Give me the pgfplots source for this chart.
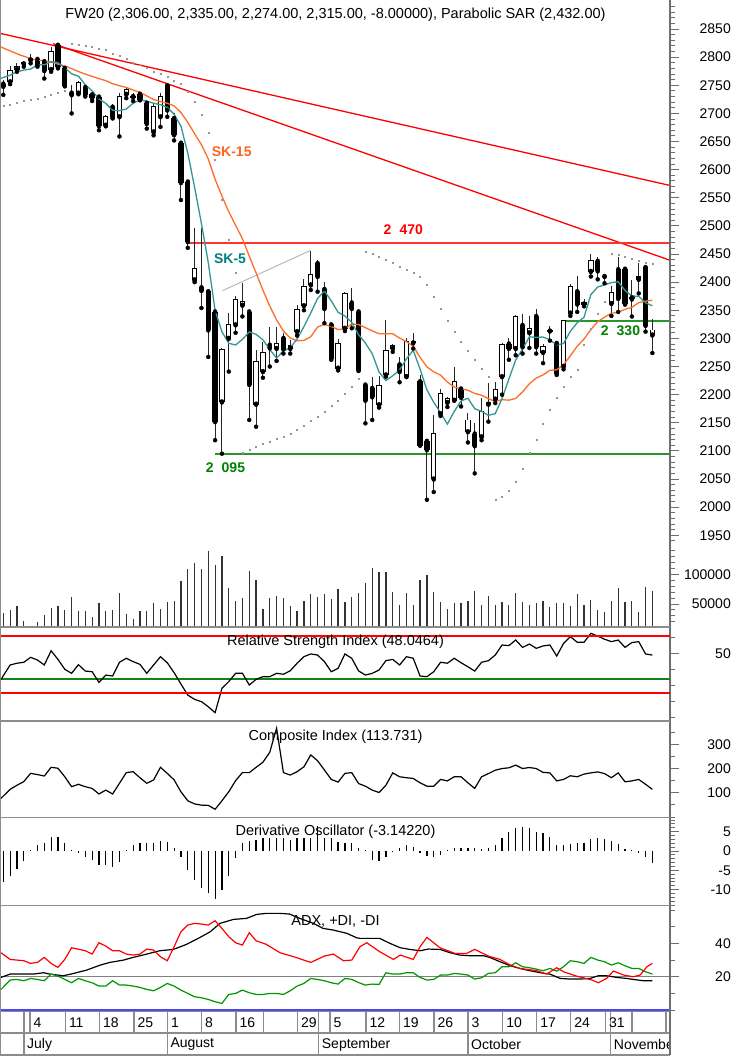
\documentclass[border=0pt]{standalone}
\usepackage{pgfplots}
\usepackage{pgfplotstable}
\pgfplotsset{compat=1.18}
\usepackage{fontspec}
\setmainfont{Liberation Sans}

\definecolor{axgray}{RGB}{110,110,110}
\definecolor{framegray}{RGB}{140,140,140}
\definecolor{tealline}{RGB}{50,150,150}
\definecolor{tealtext}{RGB}{0,128,128}
\definecolor{orangeline}{RGB}{255,110,40}
\definecolor{orangetext}{RGB}{255,100,30}
\definecolor{pured}{RGB}{255,0,0}
\definecolor{hred}{RGB}{255,50,50}
\definecolor{hgreen}{RGB}{40,150,40}
\definecolor{gtext}{RGB}{0,128,0}
\definecolor{sargray}{RGB}{150,150,150}
\definecolor{digreen}{RGB}{0,150,0}
\definecolor{rsigreen}{RGB}{20,130,20}
\definecolor{adxblue}{RGB}{70,70,255}

\pgfplotsset{
  panel/.style={
    scale only axis, width=669pt, xmin=-0.337, xmax=97.58,
    enlargelimits=false, anchor=north west,
    hide x axis, axis y line*=right,
    y axis line style={-, draw=axgray, line width=1.2pt},
    tick align=outside, major tick length=9pt, minor tick length=5pt,
    every tick/.append style={draw=axgray, line width=1pt},
    yticklabel style={font=\fontsize{14}{14}\selectfont, anchor=east, xshift=52pt, inner sep=0pt},
    scaled y ticks=false,
    /pgf/number format/1000 sep={},
    /pgf/number format/fixed,
    /pgf/number format/assume math mode=true,
  },
  cbar/.style={only marks, mark=none, forget plot,
    error bars/y dir=plus, error bars/y explicit, error bars/error mark=none},
}

\begin{document}

\pgfplotstableread{
i o h l c
0 2752 2759 2733 2748
1 2756 2784 2752 2776
2 2778 2790 2774 2783
3 2788 2793 2783 2790
4 2795 2805 2789 2797
5 2796 2800 2783 2786
6 2792 2795 2762 2776
7 2778 2818 2774 2810
8 2821 2824 2780 2783
9 2780 2783 2748 2750
10 2736 2750 2700 2733
11 2736 2757 2734 2755
12 2746 2750 2730 2734
13 2733 2736 2722 2728
14 2729 2733 2670 2678
15 2679 2697 2677 2694
16 2711 2716 2691 2694
17 2694 2736 2659 2730
18 2734 2745 2727 2743
19 2730 2737 2722 2729
20 2734 2740 2724 2724
21 2718 2724 2673 2682
22 2667 2718 2661 2712
23 2694 2736 2676 2730
24 2749 2751 2694 2706
25 2691 2700 2652 2662
26 2647 2650 2546 2577
27 2578 2582 2461 2472
28 2404 2496 2400 2425
29 2390 2496 2354 2385
30 2383 2386 2267 2315
31 2347 2350 2119 2152
32 2187 2283 2095 2281
33 2300 2345 2241 2324
34 2324 2375 2310 2369
35 2359 2398 2339 2366
36 2347 2350 2155 2218
37 2183 2279 2143 2259
38 2241 2293 2230 2275
39 2288 2321 2250 2283
40 2282 2321 2260 2291
41 2300 2310 2273 2281
42 2282 2298 2273 2287
43 2312 2360 2305 2352
44 2358 2405 2350 2393
45 2395 2456 2386 2413
46 2433 2440 2383 2410
47 2387 2401 2327 2353
48 2324 2327 2262 2265
49 2247 2299 2243 2291
50 2318 2383 2313 2380
51 2363 2389 2318 2353
52 2347 2352 2242 2244
53 2217 2220 2149 2190
54 2211 2232 2155 2196
55 2182 2233 2177 2217
56 2235 2333 2232 2278
57 2282 2290 2276 2287
58 2253 2267 2222 2241
59 2232 2300 2232 2295
60 2292 2310 2282 2294
61 2223 2235 2110 2110
62 2117 2117 2013 2102
63 2050 2164 2027 2131
64 2166 2210 2162 2202
65 2186 2196 2178 2193
66 2190 2250 2190 2223
67 2210 2213 2179 2195
68 2134 2168 2115 2155
69 2130 2149 2060 2109
70 2125 2194 2119 2170
71 2183 2220 2152 2187
72 2192 2222 2185 2210
73 2232 2292 2200 2290
74 2290 2300 2262 2282
75 2282 2342 2270 2339
76 2323 2344 2273 2285
77 2310 2340 2283 2318
78 2339 2353 2273 2285
79 2275 2290 2256 2285
80 2313 2322 2296 2315
81 2291 2293 2235 2238
82 2250 2332 2245 2332
83 2345 2397 2340 2393
84 2383 2411 2347 2361
85 2361 2370 2357 2364
86 2419 2450 2410 2439
87 2437 2445 2405 2420
88 2410 2412 2398 2411
89 2362 2393 2340 2382
90 2422 2444 2347 2371
91 2423 2425 2360 2362
92 2372 2404 2339 2370
93 2405 2434 2380 2410
94 2426 2430 2312 2323
95 2306 2335 2274 2315
}\candles

\pgfplotstableread{
i p
-0.34 2762
0 2764
1 2768
2 2774
3 2777
4 2778.8
5 2786.4
6 2786.4
7 2791.8
8 2790.4
9 2781
10 2770.4
11 2766.2
12 2751
13 2740
14 2725.6
15 2717.8
16 2705.6
17 2704.8
18 2707.8
19 2718
20 2724
21 2721.6
22 2718
23 2715.4
24 2710.8
25 2698.4
26 2677.4
27 2629.4
28 2568.4
29 2504.2
30 2434.8
31 2349.8
32 2311.6
33 2291.4
34 2288.2
35 2298.4
36 2311.6
37 2307.2
38 2297.4
39 2280.2
40 2265.2
41 2277.8
42 2283.4
43 2298.8
44 2320.8
45 2345.2
46 2371
47 2384.2
48 2366.8
49 2346.4
50 2339.8
51 2328.4
52 2306.6
53 2291.6
54 2272.6
55 2240
56 2225
57 2233.6
58 2243.8
59 2263.6
60 2279
61 2245.4
62 2208.4
63 2186.4
64 2167.8
65 2147.6
66 2170.2
67 2188.8
68 2193.6
69 2175
70 2170.4
71 2163.2
72 2166.2
73 2193.2
74 2227.8
75 2261.6
76 2281.2
77 2302.8
78 2301.8
79 2302.4
80 2297.6
81 2288.2
82 2291
83 2312.6
84 2327.8
85 2337.6
86 2377.8
87 2391.4
88 2395
89 2399.2
90 2400.6
91 2385.2
92 2375.2
93 2375
94 2363.2
95 2358
}\skfive

\pgfplotstableread{
i p
-0.34 2818
2.4 2804
4.4 2796
6.8 2792
9.3 2783
11.7 2771
14 2761.8
15 2758.2
16 2752.7
17 2749.2
18 2746.1
19 2741.5
20 2737.4
21 2731.1
22 2724.6
23 2721.1
24 2718.1
25 2713.4
26 2701.5
27 2684.1
28 2663.9
29 2644.3
30 2619.1
31 2582.9
32 2553
33 2525.1
34 2501.1
35 2477.2
36 2446.3
37 2416.1
38 2385.7
39 2357.5
40 2332.8
41 2313.1
42 2300.7
43 2295.9
44 2296.4
45 2302.9
46 2320.1
47 2324.9
48 2321
49 2315.8
50 2316.7
51 2325.7
52 2324.7
53 2319.1
54 2313.3
55 2308.3
56 2308.1
57 2308.1
58 2300.7
59 2294.2
60 2286.3
61 2266.3
62 2249.5
63 2240.6
64 2234.7
65 2222.2
66 2213.5
67 2210.3
68 2207.9
69 2202.1
70 2199
71 2192.9
72 2187.8
73 2191.1
74 2190.2
75 2193.2
76 2204.9
77 2219.3
78 2229.5
79 2235.1
80 2243.2
81 2244.2
82 2253.3
83 2269.2
84 2286
85 2298.9
86 2315.7
87 2329.7
88 2337.8
89 2344.5
90 2346.6
91 2351.7
92 2355.2
93 2363.5
94 2366.1
95 2368
}\skfifteen

\pgfplotstableread{
i p
0 2714
1 2716
2 2719
3 2722
4 2724
5 2727
6 2730
7 2733
8 2736
9 2740
10 2824
11 2823
12 2820
13 2818
14 2815
15 2813
16 2807
17 2802
18 2797
19 2791
20 2786
21 2781
22 2775
23 2770
24 2765
25 2759
26 2753
27 2738
28 2720
29 2697
30 2665
31 2617
32 2546
33 2476
34 2416
35 2097
36 2103
37 2108
38 2112
39 2116
40 2121
41 2126
42 2131
43 2138
44 2145
45 2153
46 2161
47 2170
48 2180
49 2190
50 2202
51 2215
52 2229
53 2454
54 2450
55 2445
56 2440
57 2434
58 2428
59 2422
60 2416
61 2409
62 2396
63 2374
64 2352
65 2331
66 2312
67 2294
68 2279
69 2262
70 2247
71 2232
72 2013
73 2019
74 2029
75 2045
76 2069
77 2097
78 2120
79 2149
80 2173
81 2195
82 2215
83 2232
84 2245
85 2288
86 2318
87 2344
88 2366
89 2451
90 2449
91 2446
92 2441
93 2438
94 2435
95 2432
}\sar

\pgfplotstableread{
i v
0 35350
1 39900
2 46630
3 21890
4 12960
5 19700
6 30970
7 43770
8 46630
9 39900
10 62290
11 38220
12 38220
13 27610
14 51180
15 38220
16 39900
17 69020
18 33160
19 24240
20 38220
21 38220
22 51180
23 42090
24 53370
25 55560
26 88720
27 108420
28 119530
29 108420
30 139730
31 115660
32 130810
33 77440
34 55560
35 59600
36 106060
37 90400
38 42090
39 59600
40 63970
41 59600
42 46630
43 38220
44 55560
45 66840
46 62290
47 66840
48 57910
49 75250
50 53370
51 62290
52 69020
53 84850
54 110100
55 103370
56 103370
57 70710
58 48320
59 68010
60 48320
61 90400
62 98820
63 70710
64 52860
65 41580
66 51180
67 51180
68 55560
69 72390
70 48320
71 63970
72 48320
73 52860
74 48320
75 68010
76 52860
77 48320
78 51180
79 55050
80 45450
81 51180
82 51180
83 46630
84 66330
85 48320
86 56730
87 39900
88 37040
89 55050
90 76430
91 52860
92 55050
93 37040
94 79120
95 72390
}\volume

\pgfplotstableread{
i v
-0.34 33.5
0 36
1 42.7
2 43.8
3 44.4
4 47.5
5 45.8
6 42.7
7 51.6
8 46.2
9 40
10 37.5
11 42.9
12 38.9
13 38.5
14 31.8
15 36.4
16 35.8
17 44.4
18 46.9
19 44.8
20 43.1
21 37.5
22 42.7
23 47.9
24 44.1
25 37.9
26 30.8
27 23.9
28 21.2
29 19.8
30 16.6
31 12.9
32 28.1
33 32.3
34 37.5
35 37.5
36 30.2
37 33.7
38 35.4
39 35.4
40 37.5
41 36.9
42 39.1
43 43.8
44 47.9
45 49.6
46 48.9
47 44.8
48 38.5
49 40.6
50 49.6
51 46.9
52 39
53 36.4
54 37.5
55 39.6
56 45.4
57 46.2
58 42.7
59 47.9
60 46.9
61 35.8
62 35.4
63 38.5
64 44.4
65 43.8
66 46.9
67 44.1
68 41.6
69 38.9
70 44.4
71 45.4
72 48.9
73 55.2
74 54.8
75 58.3
76 53.7
77 55.8
78 53.1
79 54.6
80 55.2
81 48.3
82 56.2
83 60.4
84 56.9
85 56.9
86 62.5
87 60.8
88 58.8
89 57.3
90 58.3
91 53.7
92 56.7
93 57.3
94 49.6
95 48.9
}\rsi

\pgfplotstableread{
i v
-0.34 77
1 114
2 131
3 146
4 180
5 175
6 169
7 205
8 201
9 166
10 125
11 135
12 125
13 118
14 95
15 111
16 95
17 139
18 183
19 187
20 162
21 139
22 153
23 205
24 180
25 153
26 104
27 67
28 54
29 49
30 48
31 32
32 67
33 104
34 150
35 183
36 183
37 205
38 226
39 267
40 366
41 183
42 173
43 187
44 207
45 256
46 232
47 194
48 155
49 144
50 180
51 183
52 138
53 127
54 111
55 101
56 131
57 182
58 166
59 162
60 159
61 141
62 127
63 127
64 155
65 149
66 166
67 166
68 141
69 118
70 166
71 179
72 193
73 200
74 203
75 214
76 200
77 204
78 200
79 184
80 182
81 149
82 155
83 170
84 166
85 177
86 182
87 186
88 179
89 162
90 182
91 145
92 149
93 155
94 135
95 114
}\composite

\pgfplotstableread{
i v
0 -7.9
1 -6.6
2 -4.7
3 -2.6
4 0.2
5 1.55
6 2.0
7 3.5
8 3.5
9 2.2
10 0.3
11 -0.4
12 -1.5
13 -2.3
14 -3.6
15 -3.6
16 -4.2
17 -2.8
18 0.3
19 1.55
20 2.2
21 2.2
22 2.2
23 2.7
24 2.4
25 0.7
26 -1.5
27 -4.9
28 -7.5
29 -9.7
30 -11.0
31 -12.5
32 -10.1
33 -6.5
34 -1.9
35 2.0
36 2.7
37 2.85
38 3.3
39 3.3
40 3.3
41 3.3
42 2.85
43 3.3
44 3.3
45 3.3
46 6.5
47 3.3
48 3.3
49 2.4
50 2.2
51 2.0
52 0.7
53 0.3
54 -2.2
55 -2.5
56 -1.5
57 -0.3
58 0.7
59 1.55
60 1.1
61 -0.4
62 -1.3
63 -1.5
64 -1.0
65 0.3
66 0.7
67 0.7
68 0.7
69 0.7
70 0.5
71 0.7
72 1.55
73 3.3
74 5.0
75 5.9
76 6.3
77 5.9
78 5.0
79 4.6
80 3.7
81 1.55
82 1.55
83 1.7
84 2.0
85 2.2
86 3.0
87 3.3
88 3.1
89 2.7
90 1.7
91 0.5
92 0.3
93 -0.4
94 -1.5
95 -3.14
}\dosc

\pgfplotstableread{
i v
-0.34 19.6
1 21.6
2.4 21.6
4.4 21.6
5.9 22.4
6.8 21.6
8.8 20.6
10.3 22
12.2 24
14.2 27
15.6 28.6
17.6 30
19.0 31.6
21 33.6
22.9 35.6
24.9 36.4
26.8 39.4
28.8 43.6
30.3 47
31.7 52
33.7 54.4
35.6 55
37.1 57.4
38.5 58
40.5 58
41.9 57.6
43.4 55
45.4 52
46.8 49
48.3 48
50.3 46
51.7 43.4
52.2 43
55.1 43
56.6 40
58.1 37.4
59.5 36.4
61 35.6
62.2 36.6
63.9 36.4
65.4 34.4
66.8 33
68.3 32.6
70.3 32.6
71.2 31.6
72.7 29
74.2 26.6
75.6 25
77.1 23.6
78.6 22.4
80 21.6
81.5 19
83 18.6
84.4 18.6
85.9 19
87.1 20.6
88.3 20.6
89.8 19.6
91.2 19
92.2 18.4
93.7 17.6
95 17.6
}\adx

\pgfplotstableread{
i v
-0.34 12.4
1 18
2 18.4
3 17.6
4 19
5 18.4
6 17.6
7 21.6
8 20.4
9 18.4
10 16.4
11 19
12 17.6
13 16.4
14 14.4
15 14.4
16 17.6
17 15
18 15
19 14.4
20 13.6
21 12.4
22 11.6
23 13.6
24 16
25 14.4
26 12
27 10
28 8
29 7.4
30 6.4
31 5
32 4
33 9.4
34 10
35 12
36 10.4
37 9.4
38 9.4
39 10
40 10
41 9.4
42 11.6
43 14.4
44 16
45 19
46 18.4
47 17.6
48 16.4
49 15.6
50 19
51 18.4
52 16.5
53 15
54 15.6
55 15.4
56 22.4
57 21.6
58 21.6
59 22.4
60 22.4
61 19.6
62 18
63 18.4
64 21
65 21
66 22
67 21.6
68 21
69 18.6
70 19.4
71 22
72 22.4
73 26
74 26
75 28.4
76 26
77 25.4
78 24.6
79 23.6
80 25
81 23.4
82 26
83 29.6
84 29
85 28
86 31.6
87 30
88 29
89 27
90 28.4
91 26.6
92 25
93 25
94 23
95 21.6
}\pdi

\pgfplotstableread{
i v
-0.34 34.4
1 30.4
3 29.6
4 28
5 28.6
6 31.6
7 28
8 25.6
9 30.4
10 37.4
11 36.5
12 35.6
13 33.6
14 40.4
15 38.4
16 35.6
17 35.6
18 33.6
19 33
20 33.6
21 36.6
22 36
23 32
24 29.6
25 38
26 47
27 51
28 52
29 51.6
30 51
31 53.6
32 49
33 44
34 40.4
35 39
36 46.4
37 41.6
38.5 39.4
40.5 34.4
42.5 32
45 28.6
47 32.4
48.3 33.6
49.8 29.6
51 30
52.2 38
53.2 40.4
55.1 35
57.1 30.4
58.1 33
60 30.4
61 38
62 43.6
63.9 37.4
66.1 34
67.8 34
69 36.4
71 32.4
72.7 30.4
74.2 27
75.6 25
78.1 23.6
79.5 21.6
81 25.4
82 23
83.9 20.4
86.2 18
87.1 16.4
88.3 19
89.3 23.4
90.8 21
92.2 20
93.2 21
94.2 26
95 28
}\mdi

\pgfplotstableread{
i lo mid hi
-0.337 25 34 61
97.58 25 34 61
}\rsilevels

\begin{tikzpicture}
\fill[white] (0pt,0pt) rectangle (740pt,-1057pt);
\path[use as bounding box] (0pt,0pt) rectangle (740pt,-1057pt);

% ---------- price panel ----------
\begin{axis}[panel, at={(1pt,0pt)}, height=627pt, ymin=1786.9, ymax=2901.6,
  ytick={1950,2000,...,2850}, minor ytick={1940,1950,...,2890}]
  % trend lines
  \addplot[draw=pured, line width=1.3pt] coordinates {(-0.5,2842.4) (97.6,2571.8)};
  \addplot[draw=pured, line width=1.3pt] coordinates {(7.3,2824) (97.6,2438.8)};
  \addplot[draw=hred, line width=1.6pt] coordinates {(27,2470) (97.6,2470)};
  \addplot[draw=hgreen, line width=1.6pt] coordinates {(31,2095) (97.6,2095)};
  \addplot[draw=hgreen, line width=1.6pt] coordinates {(81.8,2331) (97.6,2331)};
  \addplot[draw=gray!55, line width=1pt] coordinates {(32.1,2385) (44.9,2456)};
  % parabolic SAR
  \addplot[only marks, mark=square*, mark size=0.5pt, draw=sargray, fill=sargray] table[x=i,y=p]{\sar};
  % candles
  \addplot[cbar, error bars/error bar style={line width=1pt, draw=black!85}]
    table[x=i, y=l, y error plus expr={\thisrow{h}-\thisrow{l}}]{\candles};
  \addplot[cbar, error bars/error bar style={line width=5.3pt, draw=black}]
    table[x=i, y expr={min(\thisrow{o},\thisrow{c})-0.8}, y error plus expr={abs(\thisrow{c}-\thisrow{o})+1.6}]{\candles};
  \addplot[cbar, error bars/error bar style={line width=3.3pt, draw=white}]
    table[x=i, y expr={\thisrow{o}+0.9}, y error plus expr={max(\thisrow{c}-\thisrow{o}-1.8,0)}]{\candles};
  % moving averages
  \addplot[draw=orangeline, line width=1.3pt] table[x=i,y=p]{\skfifteen};
  \addplot[draw=tealline, line width=1.3pt] table[x=i,y=p]{\skfive};
\end{axis}

% ---------- volume overlay ----------
\begin{axis}[panel, at={(1pt,0pt)}, height=627pt, ymin=11279, ymax=1066835,
  ytick={50000,100000}, minor ytick={20000,30000,...,140000}]
  \addplot[ycomb, line width=1.2pt, draw=black!80] table[x=i,y=v]{\volume};
\end{axis}

% ---------- RSI ----------
\begin{axis}[panel, at={(1pt,-627pt)}, height=94pt, ymin=7.69, ymax=66.44,
  ytick={50}, minor ytick={10,20,30,40,60}, clip=false]
  \addplot[color=rsigreen, line width=1.2pt] table[x=i,y=mid]{\rsilevels};
  \addplot[color=black, line width=1.2pt] table[x=i,y=v]{\rsi};
  \addplot[color=pured, line width=1.6pt] table[x=i,y=hi]{\rsilevels};
  \addplot[color=pured, line width=1.7pt] table[x=i,y=lo]{\rsilevels};
\end{axis}

% ---------- Composite ----------
\begin{axis}[panel, at={(1pt,-721pt)}, height=96.3pt, ymin=-1.2, ymax=395.9,
  ytick={100,200,300}, minor ytick={0,50,150,250,350}]
  \addplot[draw=black, line width=1.2pt] table[x=i,y=v]{\composite};
\end{axis}

% ---------- Derivative oscillator ----------
\begin{axis}[panel, at={(1pt,-817.3pt)}, height=88.4pt, ymin=-14.17, ymax=8.73,
  ytick={-10,-5,0,5}, minor ytick={-14,-13,...,8}]
  \addplot[ycomb, line width=1.2pt, draw=black] table[x=i,y=v]{\dosc};
\end{axis}

% ---------- ADX ----------
\begin{axis}[panel, at={(1pt,-905.7pt)}, height=105.8pt, ymin=-0.84, ymax=62.6,
  ytick={20,40}, minor ytick={0,10,30,50,60}]
  \addplot[draw=gray, line width=1pt] coordinates {(-0.3,20) (97.5,20)};
  \addplot[draw=adxblue, line width=2.5pt] coordinates {(-0.3,0) (97.5,0)};
  \addplot[draw=black, line width=1.2pt] table[x=i,y=v]{\adx};
  \addplot[draw=digreen, line width=1.2pt] table[x=i,y=v]{\pdi};
  \addplot[draw=pured, line width=1.2pt] table[x=i,y=v]{\mdi};
\end{axis}

\begin{scope}[x=1pt,y=-1pt]
  % frame
  \draw[framegray, line width=1.2pt] (0.6,0) -- (0.6,1055);
  \foreach \yy in {627,721,817.3,905.7,1011.5,1033,1055}
    \draw[framegray, line width=1.2pt] (0,\yy) -- (670,\yy);
  \draw[axgray, line width=1.2pt] (670,1011.5) -- (670,1055);
  % titles
  \begin{scope}[every node/.style={font=\fontsize{14.5}{16}\selectfont, inner sep=0pt}]
    \node at (335.5,15) {FW20 (2,306.00, 2,335.00, 2,274.00, 2,315.00, -8.00000), Parabolic SAR (2,432.00)};
    \node at (335.5,642) {Relative Strength Index (48.0464)};
    \node at (335.5,737) {Composite Index (113.731)};
    \node at (335.5,832) {Derivative Oscillator (-3.14220)};
    \node at (335.5,921) {ADX, +DI, -DI};
  \end{scope}
  % chart labels
  \begin{scope}[every node/.style={font=\fontsize{14}{16}\selectfont\bfseries, inner sep=0pt}]
    \node[text=orangetext] at (231.7,151.7) {SK-15};
    \node[text=tealtext] at (230,259) {SK-5};
    \node[text=pured] at (403.3,230) {2\hspace{8pt}470};
    \node[text=gtext] at (225.5,467.5) {2\hspace{8pt}095};
    \node[text=gtext] at (620.5,331) {2\hspace{8pt}330};
  \end{scope}
  % date strip: day row
  \foreach \xx in {24,30,65.3,99.3,134,167.3,201.3,236,263.3,297.3,318.7,330,366,399.3,434,468,502.7,536.7,570.7,605.3,610.7,632,666}
    \draw[framegray, line width=1.2pt] (\xx,1011.5) -- (\xx,1033);
  \foreach \xx in {24,167.3,318.7,468,610.7}
    \draw[framegray, line width=1.2pt] (\xx,1033) -- (\xx,1055);
  \begin{scope}[every node/.style={font=\fontsize{14}{16}\selectfont, inner sep=0pt, anchor=west}]
    \foreach \xx/\tt in {30/4,65.3/11,99.3/18,134/25,167.3/1,201.3/8,236/16,297.3/29,330/5,366/12,399.3/19,434/26,468/3,502.7/10,536.7/17,570.7/24,605.3/31}
      \node at (\xx+3.5,1023) {\tt};
    \foreach \xx/\tt in {24/July,167.3/August,318.7/September,468/October}
      \node at (\xx+3,1044.5) {\tt};
    \begin{scope}
      \clip (611,1034) rectangle (668.5,1055);
      \node at (613.7,1044.5) {November};
    \end{scope}
  \end{scope}
\end{scope}
\end{tikzpicture}
\end{document}
